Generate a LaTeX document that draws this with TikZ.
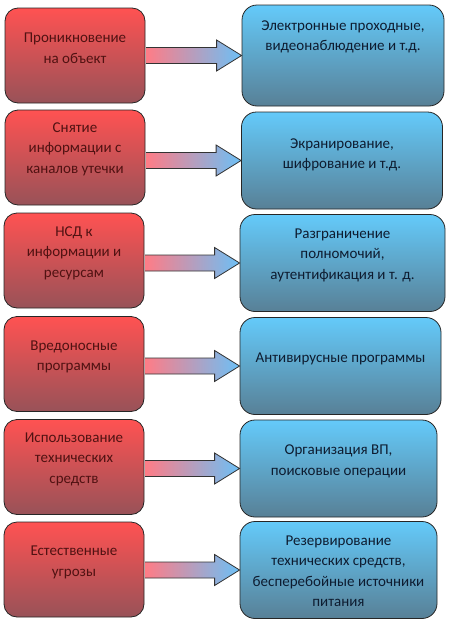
\documentclass[tikz,border=0pt]{standalone}
\usepackage{fontspec}
\setmainfont{Carlito}
\usetikzlibrary{calc}
\definecolor{redtop}{RGB}{255,82,82}
\definecolor{redmid}{RGB}{228,82,84}
\definecolor{redbot}{RGB}{152,82,88}
\definecolor{bluetop}{RGB}{100,202,250}
\definecolor{bluemid}{RGB}{96,178,222}
\definecolor{bluebot}{RGB}{88,128,150}
\definecolor{pipeleft}{RGB}{255,124,134}
\definecolor{piperight}{RGB}{108,192,246}
\definecolor{redtext}{RGB}{80,18,18}
\definecolor{bluetext}{RGB}{14,28,48}
\tikzset{
  threat/.style={draw=black!85, line width=0.8pt, rounded corners=13pt,
    minimum width=140pt, minimum height=95pt,
    top color=redtop, middle color=redmid, bottom color=redbot},
  remedy/.style={draw=black!85, line width=0.8pt, rounded corners=15pt,
    minimum width=201pt, minimum height=97pt,
    top color=bluetop, middle color=bluemid, bottom color=bluebot},
  threattext/.style={text=redtext, align=center,
    font=\fontsize{15}{20.5}\selectfont},
  remedytext/.style={text=bluetext, align=center,
    font=\fontsize{15}{20.5}\selectfont},
  pipe/.style={draw=black!80, line width=0.8pt, line join=miter,
    left color=pipeleft, right color=piperight}
}
\begin{document}
\begin{tikzpicture}[x=1pt,y=-1pt]
  \useasboundingbox (0,0) rectangle (450,624);
  % threats
  \node[threat] (l1) at (75,55.5) {};
  \node[threat] (l2) at (75,157.5) {};
  \node[threat] (l3) at (74,260.5) {};
  \node[threat] (l4) at (74,364) {};
  \node[threat] (l5) at (74,467) {};
  \node[threat] (l6) at (74,569.5) {};
  % remedies
  \node[remedy,minimum width=202pt,minimum height=101pt] (r1) at (343,55.5) {};
  \node[remedy] (r2) at (342,160.5) {};
  \node[remedy,minimum width=205pt] (r3) at (342.5,263) {};
  \node[remedy] (r4) at (340.5,366) {};
  \node[remedy,minimum width=197pt] (r5) at (338.5,468.5) {};
  \node[remedy,minimum width=197pt] (r6) at (338.5,570) {};
  % arrows
  \foreach \i in {1,...,6}
    \path[pipe] ($(l\i.east |- r\i.west)+(0.6,-8)$)
      -- ($(r\i.west)+(-25,-8)$) -- ($(r\i.west)+(-25,-15.5)$)
      -- (r\i.west)
      -- ($(r\i.west)+(-25,15.5)$) -- ($(r\i.west)+(-25,8)$)
      -- ($(l\i.east |- r\i.west)+(0.6,8)$);
  % texts
  \node[threattext] (tl1) at ([yshift=7.5pt]l1.center) {Проникновение\\на объект};
  \node[threattext] (tl2) at ([yshift=8.5pt]l2.center) {Снятие\\информации с\\каналов утечки};
  \node[threattext] (tl3) at ([yshift=7.5pt]l3.center) {НСД к\\информации и\\ресурсам};
  \node[threattext] (tl4) at ([yshift=7pt]l4.center) {Вредоносные\\программы};
  \node[threattext] (tl5) at ([yshift=8pt]l5.center) {Использование\\технических\\средств};
  \node[threattext] (tl6) at ([yshift=7pt]l6.center) {Естественные\\угрозы};
  \node[remedytext] (tr1) at ([yshift=18.5pt]r1.center) {Электронные проходные,\\видеонаблюдение и т.д.};
  \node[remedytext] (tr2) at ([yshift=5.5pt]r2.center) {Экранирование,\\шифрование и т.д.};
  \node[remedytext] (tr3) at ([yshift=8pt]r3.center) {Разграничение\\полномочий,\\аутентификация и т. д.};
  \node[remedytext] (tr4) at ([yshift=7pt]r4.center) {Антивирусные программы};
  \node[remedytext] (tr5) at ([yshift=7pt]r5.center) {Организация ВП,\\поисковые операции};
  \node[remedytext] (tr6) at ([yshift=-1pt]r6.center) {Резервирование\\технических средств,\\бесперебойные источники\\питания};
\end{tikzpicture}
\end{document}
